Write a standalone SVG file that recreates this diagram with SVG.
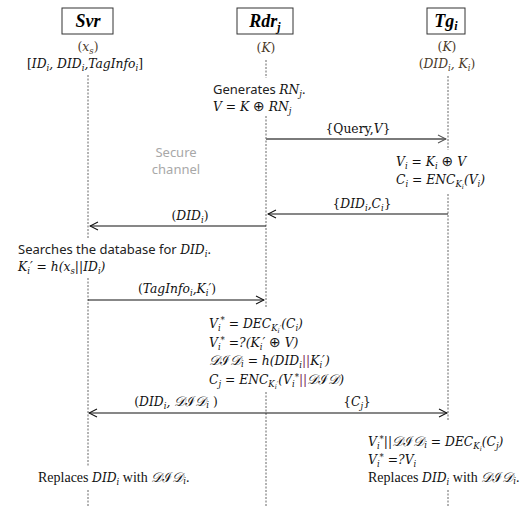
<svg xmlns="http://www.w3.org/2000/svg" width="532" height="507" viewBox="0 0 532 507">
<style>
.bg{fill:#fff}
.box{fill:#fff;stroke:#333;stroke-width:1}
.title{font-family:"Liberation Serif",serif;font-style:italic;font-weight:bold;font-size:18px;fill:#000}
.m{font-family:"DejaVu Serif",serif;font-style:italic;font-size:12.3px;fill:#111}
.r{font-family:"DejaVu Serif",serif;font-style:normal;font-size:12.3px;fill:#111}
.s{font-family:"Noto Sans","DejaVu Sans",sans-serif;font-size:13px;fill:#222}
.sr{font-family:"Liberation Serif",serif;font-style:normal;font-size:14px;fill:#111}
.br{fill:#4a3a2a}
.sc{font-family:"DejaVu Serif","Noto Sans",serif;font-style:italic;font-size:13.5px}
.ox{font-family:"DejaVu Sans",sans-serif;font-style:normal;font-size:14px}
.gray{font-family:"Noto Sans","DejaVu Sans",sans-serif;font-size:13px;fill:#a8a8a8}
.life{stroke:#666;stroke-width:1;stroke-dasharray:2 1.5;fill:none}
.msg{stroke:#111;stroke-width:1.2;fill:none}
.q{stroke:#7a7a7a;stroke-width:1.8;fill:none}
.sub{font-size:8.5px}
.ss{font-size:6.5px}
</style>
<defs>
<marker id="ah" viewBox="0 0 10 10" refX="9" refY="5" markerWidth="10" markerHeight="10" markerUnits="userSpaceOnUse" orient="auto-start-reverse">
<path d="M1,1 L9,5 L1,9" fill="none" stroke="#111" stroke-width="1.1"/>
</marker>
<marker id="ahg" viewBox="0 0 10 10" refX="9" refY="5" markerWidth="10" markerHeight="10" markerUnits="userSpaceOnUse" orient="auto">
<path d="M1,1 L9,5 L1,9" fill="none" stroke="#555" stroke-width="1.1"/>
</marker>
</defs>
<rect class="bg" x="0" y="0" width="532" height="507"/>

<g id="lifelines">
<path class="life" d="M88,75 V238 M88,278 V466 M88,490 V507"/>
<path class="life" d="M266,60 V78 M266,116 V308 M266,392 V507"/>
<path class="life" d="M448,76 V150 M448,194 V420 M448,490 V507"/>
</g>

<g id="node-svr">
<rect class="box" x="62" y="8" width="51" height="26"/>
<text class="title" x="88" y="27" text-anchor="middle">Svr</text>
<text class="r br" x="88" y="51" text-anchor="middle">(<tspan class="m br">x</tspan><tspan class="m br sub" dy="3">s</tspan><tspan dy="-3">)</tspan></text>
<text class="m" x="85" y="68" text-anchor="middle"><tspan class="r">[</tspan>ID<tspan class="sub" dy="3">i</tspan><tspan dy="-3">, DID</tspan><tspan class="sub" dy="3">i</tspan><tspan dy="-3">,TagInfo</tspan><tspan class="sub" dy="3">i</tspan><tspan class="r" dy="-3">]</tspan></text>
</g>

<g id="node-rdr">
<rect class="box" x="237" y="8" width="56" height="26"/>
<text class="title" x="265" y="27" text-anchor="middle">Rdr<tspan font-size="12" dy="4">j</tspan></text>
<text class="r br" x="266" y="52" text-anchor="middle">(<tspan class="m br">K</tspan>)</text>
<text class="s" x="213" y="94">Generates <tspan class="m">RN</tspan><tspan class="m sub" dy="2.5">j</tspan><tspan dy="-2.5">.</tspan></text>
<text class="m" x="213" y="111">V = K <tspan class="ox">⊕</tspan> RN<tspan class="sub" dy="3">j</tspan></text>
</g>

<g id="node-tg">
<rect class="box" x="427" y="8" width="38" height="26"/>
<text class="title" x="446" y="27" text-anchor="middle">Tg<tspan font-size="12" dy="3">i</tspan></text>
<text class="r br" x="447" y="51" text-anchor="middle">(<tspan class="m br">K</tspan>)</text>
<text class="r br" x="447" y="68" text-anchor="middle">(<tspan class="m br">DID</tspan><tspan class="m br sub" dy="3">i</tspan><tspan class="m br" dy="-3">, K</tspan><tspan class="m br sub" dy="3">i</tspan><tspan dy="-3">)</tspan></text>
<text class="m" x="396" y="166">V<tspan class="sub" dy="3">i</tspan><tspan dy="-3"> = K</tspan><tspan class="sub" dy="3">i</tspan><tspan dy="-3"> </tspan><tspan class="ox">⊕</tspan><tspan> V</tspan></text>
<text class="m" x="396" y="184">C<tspan class="sub" dy="3">i</tspan><tspan dy="-3"> = ENC</tspan><tspan class="sub" dy="3">K</tspan><tspan class="sub ss" dy="1.5">i</tspan><tspan dy="-4.5">(V</tspan><tspan class="sub" dy="3">i</tspan><tspan dy="-3">)</tspan></text>
</g>

<g id="secure-channel">
<text class="gray" x="176" y="157" text-anchor="middle">Secure</text>
<text class="gray" x="176" y="174" text-anchor="middle">channel</text>
</g>

<g id="svr-steps">
<text class="s" x="18" y="254">Searches the database for <tspan class="m">DID</tspan><tspan class="m sub" dy="3">i</tspan><tspan dy="-3">.</tspan></text>
<text class="m" x="18" y="271">K<tspan class="sub" dy="3">i</tspan><tspan dy="-3">′ = h(x</tspan><tspan class="sub" dy="3">s</tspan><tspan dy="-3">||ID</tspan><tspan class="sub" dy="3">i</tspan><tspan dy="-3">)</tspan></text>
<text class="sr" x="38" y="482">Replaces <tspan class="m">DID</tspan><tspan class="m sub" dy="3">i</tspan><tspan dy="-3"> with </tspan><tspan class="sc">𝒟ℐ𝒟</tspan><tspan class="sc sub" dy="2">i</tspan><tspan dy="-2">.</tspan></text>
</g>

<g id="rdr-steps">
<text class="m" x="209" y="328">V<tspan class="sub" dy="3">i</tspan><tspan class="sub" dy="-8">*</tspan><tspan dy="5"> = DEC</tspan><tspan class="sub" dy="3">K</tspan><tspan class="sub ss" dy="1.5">i</tspan><tspan class="sub ss" dy="-3">′</tspan><tspan dy="-1.5">(C</tspan><tspan class="sub" dy="3">i</tspan><tspan dy="-3">)</tspan></text>
<text class="m" x="209" y="347">V<tspan class="sub" dy="3">i</tspan><tspan class="sub" dy="-7">*</tspan><tspan dy="4"> =?(K</tspan><tspan class="sub" dy="3">i</tspan><tspan dy="-3">′ </tspan><tspan class="ox">⊕</tspan><tspan> V)</tspan></text>
<text class="m" x="209" y="365"><tspan class="sc">𝒟ℐ𝒟</tspan><tspan class="sc sub" dy="2">i</tspan><tspan dy="-2"> = h(DID</tspan><tspan class="sub" dy="3">i</tspan><tspan dy="-3" fill="#7a2a5a">||</tspan><tspan>K</tspan><tspan class="sub" dy="3">i</tspan><tspan dy="-3">′)</tspan></text>
<text class="m" x="209" y="384">C<tspan class="sub" dy="3">j</tspan><tspan dy="-3"> = ENC</tspan><tspan class="sub" dy="3">K</tspan><tspan class="sub ss" dy="1.5">i</tspan><tspan class="sub ss" dy="-3">′</tspan><tspan dy="-1.5">(V</tspan><tspan class="sub" dy="3">i</tspan><tspan class="sub" dy="-7">*</tspan><tspan dy="4" fill="#7a2a5a">||</tspan><tspan class="sc">𝒟ℐ𝒟</tspan><tspan>)</tspan></text>
</g>

<g id="tg-steps">
<text class="m" x="368" y="446">V<tspan class="sub" dy="3">i</tspan><tspan class="sub" dy="-7">*</tspan><tspan dy="4">||</tspan><tspan class="sc">𝒟ℐ𝒟</tspan><tspan class="sc sub" dy="2">i</tspan><tspan dy="-2"> = DEC</tspan><tspan class="sub" dy="3">K</tspan><tspan class="sub ss" dy="1.5">i</tspan><tspan dy="-4.5">(C</tspan><tspan class="sub" dy="3">j</tspan><tspan dy="-3">)</tspan></text>
<text class="m" x="368" y="464">V<tspan class="sub" dy="3">i</tspan><tspan class="sub" dy="-7">*</tspan><tspan dy="4"> =?V</tspan><tspan class="sub" dy="3">i</tspan></text>
<text class="sr" x="368" y="482">Replaces <tspan class="m">DID</tspan><tspan class="m sub" dy="3">i</tspan><tspan dy="-3"> with </tspan><tspan class="sc">𝒟ℐ𝒟</tspan><tspan class="sc sub" dy="2">i</tspan><tspan dy="-2">.</tspan></text>
</g>

<g id="connectors">
<line class="q" x1="266" y1="139" x2="446" y2="139" marker-end="url(#ahg)"/>
<line class="msg" x1="448" y1="214" x2="268" y2="214" marker-end="url(#ah)"/>
<line class="msg" x1="266" y1="226" x2="90" y2="226" marker-end="url(#ah)"/>
<line class="msg" x1="88" y1="300" x2="264" y2="300" marker-end="url(#ah)"/>
<line class="msg" x1="89" y1="413" x2="447" y2="413" marker-start="url(#ah)" marker-end="url(#ah)"/>
<text class="r" x="358" y="133" text-anchor="middle">{Query,<tspan class="m">V</tspan>}</text>
<text class="r" x="362" y="208" text-anchor="middle">{<tspan class="m">DID</tspan><tspan class="m sub" dy="3">i</tspan><tspan class="m" dy="-3">,C</tspan><tspan class="m sub" dy="3">i</tspan><tspan dy="-3">}</tspan></text>
<text class="r" x="190" y="220" text-anchor="middle">(<tspan class="m">DID</tspan><tspan class="m sub" dy="3">i</tspan><tspan dy="-3">)</tspan></text>
<text class="r" x="177" y="293" text-anchor="middle">(<tspan class="m">TagInfo</tspan><tspan class="m sub" dy="3">i</tspan><tspan class="m" dy="-3">,K</tspan><tspan class="m sub" dy="3">i</tspan><tspan class="m" dy="-3">′</tspan>)</text>
<text class="r" x="176" y="406" text-anchor="middle">(<tspan class="m">DID</tspan><tspan class="m sub" dy="3">i</tspan><tspan class="m" dy="-3">,  </tspan><tspan class="sc">𝒟ℐ𝒟</tspan><tspan class="sc sub" dy="2">i</tspan><tspan dy="-2"> )</tspan></text>
<text class="r" x="357" y="406" text-anchor="middle">{<tspan class="m">C</tspan><tspan class="m sub" dy="3">j</tspan><tspan dy="-3">}</tspan></text>
</g>
</svg>
